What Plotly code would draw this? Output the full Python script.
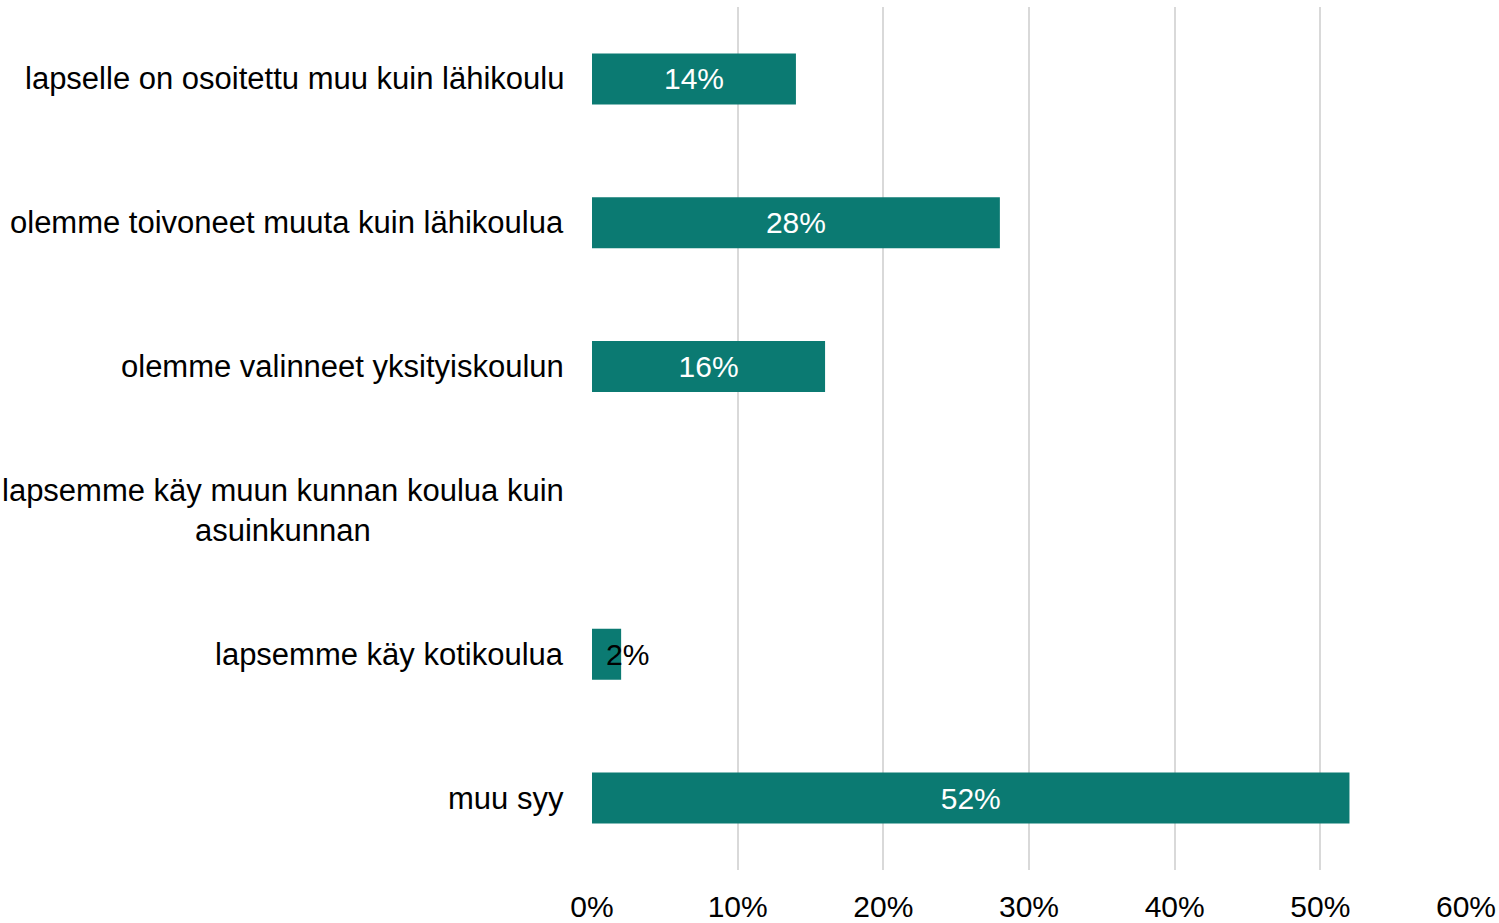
import plotly.graph_objects as go

categories = [
    "lapselle on osoitettu muu kuin lähikoulu",
    "olemme toivoneet muuta kuin lähikoulua",
    "olemme valinneet yksityiskoulun",
    "lapsemme käy muun kunnan koulua kuin<br>asuinkunnan",
    "lapsemme käy kotikoulua",
    "muu syy",
]
values = [14, 28, 16, None, 2, 52]
tick_vals = [0, 10, 20, 30, 40, 50, 60]
tick_text = ["0%", "10%", "20%", "30%", "40%", "50%", "60%"]

FONT = "Liberation Sans"
CAT_SIZE = 31
NUM_SIZE = 30
BAR = "#0b7a72"

inside_text = [f"{v}%" if (v is not None and v >= 5) else "" for v in values]

fig = go.Figure()
fig.add_trace(go.Bar(
    y=categories, x=values, orientation="h",
    marker=dict(color=BAR, line=dict(width=0)),
    text=inside_text, textposition="inside", insidetextanchor="middle",
    textfont=dict(family=FONT, size=NUM_SIZE, color="white"),
    constraintext="none", hoverinfo="skip",
))

annotations = []
for c in categories:
    annotations.append(dict(
        x=0, xref="paper", y=c, yref="y", text=c, showarrow=False,
        xanchor="right", align="center", xshift=-26,
        font=dict(family=FONT, size=CAT_SIZE, color="black"),
    ))
for c, v in zip(categories, values):
    if v is not None and v < 5:
        annotations.append(dict(
            x=v, xref="x", y=c, yref="y", text=f"{v}%", showarrow=False,
            xanchor="center", xshift=6,
            font=dict(family=FONT, size=NUM_SIZE, color="black"),
        ))

fig.update_layout(
    width=1499, height=923,
    margin=dict(l=592, r=33, t=7, b=53, autoexpand=False),
    paper_bgcolor="white", plot_bgcolor="white",
    bargap=0.646, showlegend=False,
    annotations=annotations,
)
fig.update_xaxes(
    range=[0, 60], tickvals=tick_vals, ticktext=tick_text,
    showgrid=True, gridcolor="#d9d9d9", gridwidth=2,
    zeroline=False, showline=False, ticks="",
    tickfont=dict(family=FONT, size=NUM_SIZE, color="black"),
    ticklabelstandoff=16, automargin=False,
)
fig.update_yaxes(
    categoryorder="array", categoryarray=categories, autorange="reversed",
    showticklabels=False, showgrid=False, zeroline=False, showline=False, ticks="",
    automargin=False,
)

fig.write_html(
    "out.html",
    config={"displayModeBar": False},
    post_script="document.body.style.margin='0';document.body.style.overflow='hidden';",
)
